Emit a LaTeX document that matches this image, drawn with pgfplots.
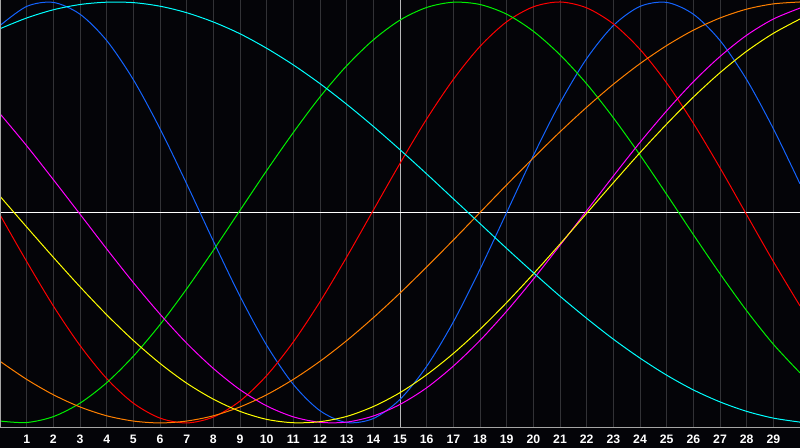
\documentclass[border=0pt]{standalone}
\usepackage{fontspec}
\setmainfont{Liberation Sans}
\usepackage{pgfplots}
\usepackage{pgfplotstable}
\pgfplotsset{compat=1.18}

\definecolor{bg}{RGB}{4,4,8}
\definecolor{gridc}{RGB}{50,50,54}
\definecolor{framec}{RGB}{165,165,165}
\definecolor{cblue}{RGB}{20,100,255}
\definecolor{cred}{RGB}{255,0,0}
\definecolor{cgreen}{RGB}{0,240,0}
\definecolor{cmag}{RGB}{255,0,255}
\definecolor{cyel}{RGB}{255,255,0}
\definecolor{corange}{RGB}{255,128,0}
\definecolor{ccyan}{RGB}{0,255,255}

% day, then one column per cycle (23, 28, 33, 38, 43, 48, 53 days)
\pgfplotstableread{
x  phys   emo    intel  intu   aest   aware  spir
0  0.888 -0.011 -0.991  0.469  0.077 -0.707  0.873
1  0.979 -0.233 -0.998  0.317 -0.069 -0.793  0.924
2  0.998 -0.444 -0.970  0.156 -0.213 -0.866  0.963
3  0.942 -0.632 -0.906 -0.008 -0.353 -0.924  0.988
4  0.817 -0.789 -0.809 -0.173 -0.486 -0.966  0.999
5  0.631 -0.906 -0.683 -0.333 -0.608 -0.991  0.997
6  0.398 -0.977 -0.533 -0.483 -0.717 -1.000  0.980
7  0.136 -1.000 -0.363 -0.621 -0.811 -0.991  0.949
8 -0.136 -0.972 -0.180 -0.741 -0.887 -0.966  0.905
9 -0.398 -0.896  0.010 -0.842 -0.945 -0.924  0.849
10 -0.631 -0.775  0.199 -0.919 -0.983 -0.866  0.780
11 -0.817 -0.615  0.380 -0.971 -0.999 -0.793  0.701
12 -0.942 -0.424  0.549 -0.997 -0.994 -0.707  0.612
13 -0.998 -0.212  0.697 -0.996 -0.969 -0.609  0.514
14 -0.979  0.011  0.820 -0.967 -0.922 -0.500  0.409
15 -0.888  0.233  0.914 -0.912 -0.856 -0.383  0.298
16 -0.731  0.444  0.974 -0.833 -0.771 -0.259  0.183
17 -0.520  0.632  0.999 -0.730 -0.670 -0.131  0.065
18 -0.270  0.789  0.988 -0.608 -0.555  0.000 -0.053
19  0.000  0.906  0.942 -0.469 -0.428  0.131 -0.171
20  0.270  0.977  0.861 -0.317 -0.292  0.259 -0.286
21  0.520  1.000  0.749 -0.156 -0.150  0.383 -0.398
22  0.731  0.972  0.611  0.008 -0.004  0.500 -0.503
23  0.888  0.896  0.450  0.173  0.141  0.609 -0.602
24  0.979  0.775  0.273  0.333  0.284  0.707 -0.692
25  0.998  0.615  0.086  0.483  0.420  0.793 -0.773
26  0.942  0.424 -0.105  0.621  0.548  0.866 -0.843
27  0.817  0.212 -0.291  0.741  0.664  0.924 -0.900
28  0.631 -0.011 -0.467  0.842  0.766  0.966 -0.945
29  0.398 -0.233 -0.626  0.919  0.851  0.991 -0.977
30  0.136 -0.444 -0.762  0.971  0.919  1.000 -0.996
}\cycles

\begin{document}
\begin{tikzpicture}
\fill[bg] (0,-15pt) rectangle (600pt,321pt);
\begin{axis}[
    at={(0,0)}, anchor=south west,
    scale only axis,
    width=600pt, height=321pt,
    xmin=0, xmax=30,
    ymin=-1.024, ymax=1.0095,
    xtick={1,...,29},
    ytick=\empty,
    major tick length=0pt,
    xmajorgrids,
    major grid style={gridc, line width=0.75pt},
    axis line style={draw=none},
    /pgf/number format/assume math mode=true,
    xticklabel style={font=\fontsize{9.2pt}{11pt}\selectfont\bfseries,
        text=white, anchor=center, yshift=-8.3pt},
    every axis plot/.append style={line width=0.75pt, smooth, no markers},
    clip=true,
  ]
  % crosshair: today and the zero line
  \addplot[white] coordinates {(15,-1.1) (15,1.1)};
  \addplot[white] coordinates {(-1,0) (31,0)};

  \addplot[cblue]   table[x=x, y=phys]  {\cycles};
  \addplot[cred]    table[x=x, y=emo]   {\cycles};
  \addplot[cgreen]  table[x=x, y=intel] {\cycles};
  \addplot[cmag]    table[x=x, y=intu]  {\cycles};
  \addplot[cyel]    table[x=x, y=aest]  {\cycles};
  \addplot[corange] table[x=x, y=aware] {\cycles};
  \addplot[ccyan]   table[x=x, y=spir]  {\cycles};

  \draw[framec, line width=0.75pt] (rel axis cs:0,0) -- (rel axis cs:1,0);
  \draw[framec, line width=0.75pt] (rel axis cs:0,1) -- (rel axis cs:1,1);
  \draw[framec, line width=0.75pt] (rel axis cs:0,0) -- (rel axis cs:0,1);
\end{axis}
\pgfresetboundingbox
\useasboundingbox (0,-15pt) rectangle (600pt,321pt);
\end{tikzpicture}
\end{document}
